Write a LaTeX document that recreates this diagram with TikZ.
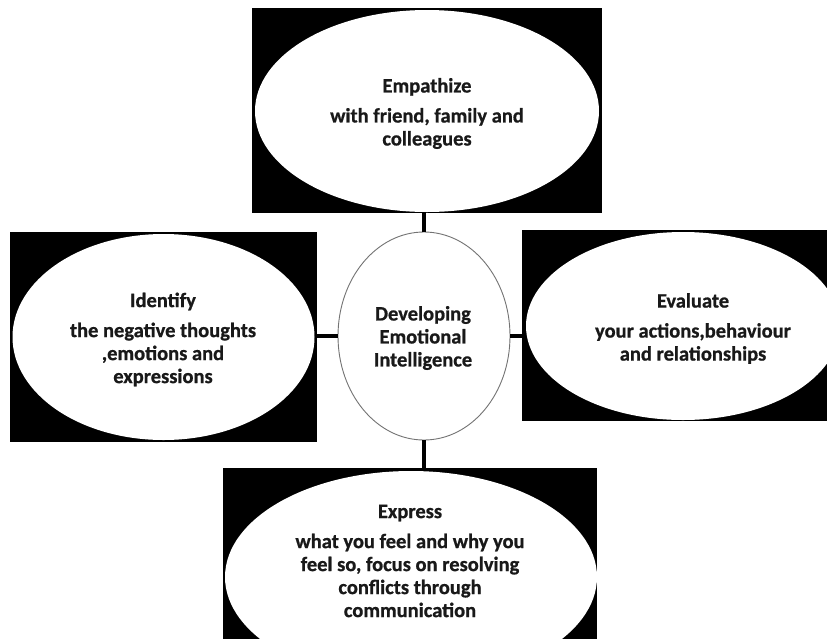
\documentclass[tikz,border=0pt]{standalone}
\usepackage{fontspec}
\setmainfont{Carlito}[BoldFeatures={FakeBold=0.8}]
\usetikzlibrary{shapes.geometric}
\begin{document}
\begin{tikzpicture}[x=1pt,y=-1pt,
  blackbox/.style={draw=none, fill=black, rectangle, inner sep=0pt},
  oval/.style={ellipse, fill=white, draw=none, inner sep=0pt},
  hub/.style={ellipse, fill=white, draw=black!55, line width=0.9pt, inner sep=0pt, minimum width=172pt, minimum height=208pt},
  txt/.style={align=center, font=\bfseries\fontsize{20.5}{23}\selectfont, text=black!90, inner sep=0pt},
  link/.style={line width=3.6pt, black}
]
\useasboundingbox (0,0) rectangle (827,638);
\clip (0,0) rectangle (827,638);
\fill[white] (0,0) rectangle (827,638);

% black boxes
\node[blackbox, minimum width=350pt, minimum height=205pt] (topbox) at (427,110.5) {};
\node[blackbox, minimum width=307pt, minimum height=210pt] (leftbox) at (163.5,337) {};
\node[blackbox, minimum width=323pt, minimum height=191pt] (rightbox) at (683.5,325.5) {};
\node[blackbox, minimum width=374pt, minimum height=192pt] (botbox) at (410,564) {};

% white ovals
\node[oval, minimum width=344pt, minimum height=202pt] (topoval) at (427,111) {};
\node[oval, minimum width=302pt, minimum height=206pt] (leftoval) at (163.5,337) {};
\node[oval, minimum width=314pt, minimum height=188pt] (rightoval) at (683,326) {};
\node[oval, minimum width=372pt, minimum height=212pt] (botoval) at (411,577) {};

% hub
\node[hub] (hub) at (424,336) {};

% connectors
\draw[link] (hub.north) -- (hub.north |- topbox.south);
\draw[link] (hub.south) -- (hub.south |- botbox.north);
\draw[link] (hub.west) -- (hub.west -| leftbox.east);
\draw[link] (hub.east) -- (hub.east -| rightbox.west);

% texts
\node[txt] (toptext) at (427,113.5) {Empathize\\[7pt]with friend, family and\\colleagues};
\node[txt] (lefttext) at (163,339.5) {Identify\\[7pt]the negative thoughts\\,emotions and\\expressions};
\node[txt] (righttext) at (693,328.5) {Evaluate\\[7pt]your actions,behaviour\\and relationships};
\node[txt] (bottext) at (410,561) {Express\\[7pt]what you feel and why you\\feel so, focus on resolving\\conflicts through\\communication};
\node[txt] (hubtext) at (423,338) {Developing\\Emotional\\Intelligence};
\end{tikzpicture}
\end{document}
